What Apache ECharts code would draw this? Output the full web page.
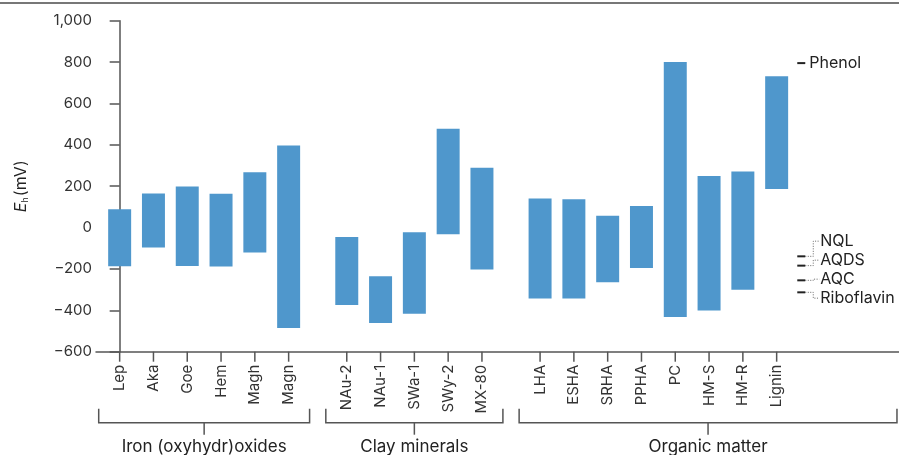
<!DOCTYPE html>
<html>
<head>
<meta charset="utf-8">
<script src="https://cdn.jsdelivr.net/npm/echarts@6/dist/echarts.min.js"></script>
<style>
html,body{margin:0;padding:0;background:#fff;}
#chart{width:899px;height:455px;}
</style>
</head>
<body>
<div id="chart"></div>
<script>
// ---- data ----
const categories = ['Lep','Aka','Goe','Hem','Magh','Magn','NAu-2','NAu-1','SWa-1','SWy-2','MX-80','LHA','ESHA','SRHA','PPHA','PC','HM-S','HM-R','Lignin'];
const lowValues  = [-187,-96,-186,-188,-120,-485,-374,-461,-417,-32,-203,-343,-343,-264,-195,-432,-401,-301,187];
const highValues = [89,165,199,163,267,397,-46,-235,-22,478,289,141,137,57,104,800,249,271,732];
const groupNames = ['Iron (oxyhydr)oxides','Clay minerals','Organic matter'];
const groupSizes = [6,5,8];
const refNames  = ['Phenol','NQL','AQDS','AQC','Riboflavin'];
const refValues = [795,-139,-184,-255,-313];
const yTicks = [-600,-400,-200,0,200,400,600,800,1000];

// ---- layout constants ----
const FONT = 'Inter';
const BAR = '#4f97cc';
const GROUP_GAP = 0.72;
const Y_MIN = -600, Y_MAX = 1000;
const X_MIN = -0.7, X_MAX = 23.06;
const BAR_W = 0.68;
const BRACKET_PAD = 0.62;

// positions along x (index + group gaps)
const xPos = [];
const groupRanges = [];
{
  let idx = 0;
  groupSizes.forEach((n, g) => {
    const first = idx + g * GROUP_GAP;
    for (let k = 0; k < n; k++) { xPos.push(idx + g * GROUP_GAP); idx++; }
    const last = xPos[xPos.length - 1];
    groupRanges.push([first, last]);
  });
}
const REF_X = xPos[xPos.length - 1] + 0.61;

const barData = categories.map((c, i) => [xPos[i], lowValues[i], highValues[i]]);
const bracketData = groupRanges.map((r, g) => [
  r[0] - BRACKET_PAD,
  g === groupRanges.length - 1 ? X_MAX - 0.06 : r[1] + BRACKET_PAD
]);
const refData = refValues.map(v => [REF_X, v]);

function fmt(v) {
  const s = Math.abs(v).toLocaleString('en-US');
  return v < 0 ? '\u2212' + s : s;
}

function renderBar(params, api) {
  const i = params.dataIndex;
  const x = api.value(0);
  const pTop = api.coord([x, api.value(2)]);
  const pBot = api.coord([x, api.value(1)]);
  const w = api.size([BAR_W, 0])[0];
  const base = api.coord([x, Y_MIN]);
  return {
    type: 'group',
    children: [
      { type: 'rect', shape: { x: pTop[0] - w / 2, y: pTop[1], width: w, height: pBot[1] - pTop[1] },
        style: { fill: BAR } },
      { type: 'line', shape: { x1: base[0], y1: base[1], x2: base[0], y2: base[1] + 10 },
        style: { stroke: '#555', lineWidth: 1.5 } },
      { type: 'text', x: base[0], y: base[1] + 13, rotation: Math.PI / 2,
        style: { text: categories[i], align: 'right', verticalAlign: 'middle',
                 font: '15px ' + FONT, fill: '#333' } }
    ]
  };
}

function renderBracket(params, api) {
  const g = params.dataIndex;
  const a = api.coord([api.value(0), Y_MIN]);
  const b = api.coord([api.value(1), Y_MIN]);
  const y0 = a[1] + 57, y1 = a[1] + 71;
  const cx = (a[0] + b[0]) / 2;
  return {
    type: 'group',
    children: [
      { type: 'polyline', shape: { points: [[a[0], y0], [a[0], y1], [b[0], y1], [b[0], y0]] },
        style: { stroke: '#555', lineWidth: 1.5, fill: null } },
      { type: 'line', shape: { x1: cx, y1: y1, x2: cx, y2: y1 + 12 },
        style: { stroke: '#555', lineWidth: 1.5 } },
      { type: 'text', x: cx, y: y1 + 24,
        style: { text: groupNames[g], align: 'center', verticalAlign: 'middle',
                 font: '17px ' + FONT, fill: '#222' } }
    ]
  };
}

function renderRef(params, api) {
  const i = params.dataIndex;
  const ys = refValues.map(v => api.coord([REF_X, v])[1]);
  const p = api.coord([REF_X, refValues[i]]);
  // cluster: refs whose markers are within 40px of a neighbour
  const order = ys.map((y, k) => k).sort((m, n) => ys[m] - ys[n]);
  const clusters = [];
  order.forEach(k => {
    const c = clusters[clusters.length - 1];
    if (c && ys[k] - ys[c[c.length - 1]] < 40) c.push(k); else clusters.push([k]);
  });
  const cl = clusters.find(c => c.indexOf(i) >= 0);
  const dashEnd = p[0] + 8;
  let labelY = p[1], labelX = dashEnd + 4;
  const children = [
    { type: 'line', shape: { x1: p[0], y1: p[1], x2: dashEnd, y2: p[1] },
      style: { stroke: '#222', lineWidth: 2 } }
  ];
  if (cl.length > 1) {
    const mean = cl.reduce((s, k) => s + ys[k], 0) / cl.length;
    const pos = cl.indexOf(i);
    labelY = mean + (pos - (cl.length - 1) / 2) * 19 - 4;
    labelX = dashEnd + 15;
    const ex = dashEnd + 8;
    children.push({ type: 'polyline',
      shape: { points: [[dashEnd, p[1]], [ex, p[1]], [ex, labelY], [labelX - 1, labelY]] },
      style: { stroke: '#666', lineWidth: 1, lineDash: [1, 1.5], fill: null } });
  }
  children.push({ type: 'text', x: labelX, y: labelY,
    style: { text: refNames[i], align: 'left', verticalAlign: 'middle',
             font: '16px ' + FONT, fill: '#222' } });
  return { type: 'group', children };
}

const chart = echarts.init(document.getElementById('chart'), null, { renderer: 'canvas' });
chart.setOption({
  animation: false,
  backgroundColor: '#fff',
  grid: { left: 96, right: 0, top: 20.7, bottom: 103.3, containLabel: false },
  xAxis: {
    type: 'value', min: X_MIN, max: X_MAX,
    axisLine: { show: true, onZero: false, lineStyle: { color: '#555', width: 1.5 } },
    axisTick: { show: false }, axisLabel: { show: false }, splitLine: { show: false }
  },
  yAxis: {
    type: 'value', min: Y_MIN, max: Y_MAX, interval: 200,
    name: '{i|E}{s|h}{n|(mV)}',
    nameLocation: 'middle', nameGap: 66, nameRotate: 90,
    nameTextStyle: {
      rich: {
        i: { fontFamily: FONT, fontSize: 16, fontStyle: 'italic', color: '#222' },
        s: { fontFamily: FONT, fontSize: 9, color: '#222', padding: [8, 1, 0, 0] },
        n: { fontFamily: FONT, fontSize: 16, color: '#222' }
      }
    },
    axisLine: { show: true, lineStyle: { color: '#555', width: 1.5 } },
    axisTick: { show: true, inside: false, length: 10, lineStyle: { color: '#555', width: 1.5 } },
    axisLabel: { margin: 4, fontFamily: FONT, fontSize: 15, color: '#333', formatter: fmt },
    splitLine: { show: false }
  },
  graphic: [
    { type: 'line', shape: { x1: 0, y1: 3, x2: 899, y2: 3 }, style: { stroke: '#777', lineWidth: 2 } }
  ],
  series: [
    { type: 'custom', renderItem: renderBar, data: barData, clip: false, encode: { x: 0, y: [1, 2] } },
    { type: 'custom', renderItem: renderBracket, data: bracketData, clip: false, encode: { x: [0, 1] } },
    { type: 'custom', renderItem: renderRef, data: refData, clip: false, encode: { x: 0, y: 1 } }
  ]
});
</script>
</body>
</html>
